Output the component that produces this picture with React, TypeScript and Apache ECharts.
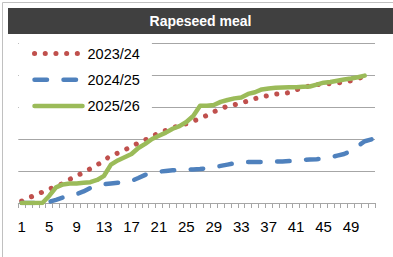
import React, { useEffect, useRef } from "react";
import * as echarts from "echarts";

const weeks: string[] = Array.from({ length: 52 }, (_, i) => String(i + 1));

const s2023: number[] = [
  0.06, 0.16, 0.25, 0.34, 0.43, 0.52, 0.61, 0.74, 0.85, 0.95,
  1.07, 1.19, 1.32, 1.49, 1.56, 1.65, 1.78, 1.87, 1.97, 2.09,
  2.18, 2.27, 2.35, 2.42, 2.48, 2.56, 2.64, 2.74, 2.85, 2.94,
  3.03, 3.07, 3.13, 3.19, 3.26, 3.32, 3.36, 3.4, 3.42, 3.45,
  3.53, 3.61, 3.66, 3.7, 3.72, 3.73, 3.75, 3.78, 3.82, 3.88,
  3.97,
];

const s2024: number[] = [
  0, 0, 0, 0, 0.04, 0.1, 0.17, 0.22, 0.28, 0.36,
  0.47, 0.55, 0.59, 0.61, 0.63, 0.65, 0.69, 0.78, 0.88, 0.94,
  0.98, 1.0, 1.02, 1.03, 1.04, 1.05, 1.06, 1.09, 1.12, 1.16,
  1.2, 1.24, 1.27, 1.28, 1.28, 1.28, 1.29, 1.3, 1.3, 1.31,
  1.32, 1.35, 1.36, 1.37, 1.39, 1.43, 1.48, 1.53, 1.62, 1.78,
  1.93, 1.99,
];

const s2025: number[] = [
  0, 0, 0, 0, 0.22, 0.49, 0.58, 0.61, 0.61, 0.63,
  0.65, 0.72, 0.85, 1.2, 1.33, 1.43, 1.53, 1.72, 1.85, 2.0,
  2.1, 2.2, 2.32, 2.4, 2.53, 2.72, 3.04, 3.04, 3.06, 3.16,
  3.22, 3.27, 3.3, 3.41, 3.46, 3.55, 3.58, 3.6, 3.61, 3.62,
  3.62, 3.63, 3.64, 3.7, 3.76, 3.78, 3.82, 3.86, 3.89, 3.93,
  3.98,
];

const seriesNames: string[] = ["2023/24", "2024/25", "2025/26"];
const title = "Rapeseed meal";
const FONT = "'Liberation Sans', Arial, sans-serif";

const redStyle = { color: "#C0504D", width: 5, type: [0.1, 10.6], cap: "round", join: "round" };
const blueStyle = { color: "#4F81BD", width: 4.5, type: [12.5, 16.5], cap: "round", join: "round" };
const greenStyle = { color: "#9BBB59", width: 4.5, type: "solid", cap: "round", join: "round" };

export default function App() {
  const ref = useRef<HTMLDivElement>(null);

  useEffect(() => {
    if (!ref.current) return;
    const chart = echarts.init(ref.current, undefined, { renderer: "svg" });
    chart.setOption({
      animation: false,
      backgroundColor: "#ffffff",
      textStyle: { fontFamily: FONT },
      graphic: [
        {
          type: "rect",
          shape: { x: 2.5, y: 2.5, width: 420, height: 300 },
          style: { fill: "none", stroke: "#c0c0c0", lineWidth: 1 },
          silent: true,
        },
        {
          type: "rect",
          shape: { x: 8, y: 8, width: 390, height: 26 },
          style: { fill: "#404040" },
          silent: true,
        },
        {
          type: "text",
          x: 200.5,
          y: 21,
          style: {
            text: title,
            fill: "#ffffff",
            font: `bold 14px ${FONT}`,
            textAlign: "center",
            textVerticalAlign: "middle",
          },
          silent: true,
        },
      ],
      grid: { left: 18.3, right: 18, top: 43, bottom: 54, containLabel: false },
      legend: {
        orient: "vertical",
        left: 19,
        top: 40,
        padding: [6, 12, 6, 13],
        backgroundColor: "#ffffff",
        itemWidth: 48,
        itemHeight: 14,
        itemGap: 11.3,
        itemStyle: { opacity: 0 },
        textStyle: { fontSize: 14.5, color: "#000000", fontFamily: FONT },
        data: [
          { name: seriesNames[0], lineStyle: redStyle },
          { name: seriesNames[1], lineStyle: blueStyle },
          { name: seriesNames[2], lineStyle: greenStyle },
        ],
      },
      xAxis: {
        type: "category",
        data: weeks,
        boundaryGap: true,
        axisLine: { lineStyle: { color: "#a6a6a6", width: 1 } },
        axisTick: { show: true, interval: 0, length: 5, lineStyle: { color: "#a6a6a6" } },
        axisLabel: { interval: 3, margin: 16, fontSize: 15, color: "#000000", fontFamily: FONT },
        splitLine: { show: false },
      },
      yAxis: {
        type: "value",
        min: 0,
        max: 5,
        interval: 1,
        axisLabel: { show: false },
        axisLine: { show: false },
        axisTick: { show: false },
        splitLine: { lineStyle: { color: "#a6a6a6", width: 1.2 } },
      },
      series: [
        {
          name: seriesNames[0],
          type: "line",
          data: s2023,
          symbol: "none",
          lineStyle: redStyle,
          itemStyle: { color: "#C0504D" },
        },
        {
          name: seriesNames[1],
          type: "line",
          data: s2024,
          symbol: "none",
          lineStyle: blueStyle,
          itemStyle: { color: "#4F81BD" },
        },
        {
          name: seriesNames[2],
          type: "line",
          data: s2025,
          symbol: "none",
          lineStyle: greenStyle,
          itemStyle: { color: "#9BBB59" },
        },
      ],
    });
    return () => chart.dispose();
  }, []);

  return (
    <div
      ref={ref}
      style={{ position: "absolute", left: 0, top: 0, width: 393, height: 257 }}
    />
  );
}
